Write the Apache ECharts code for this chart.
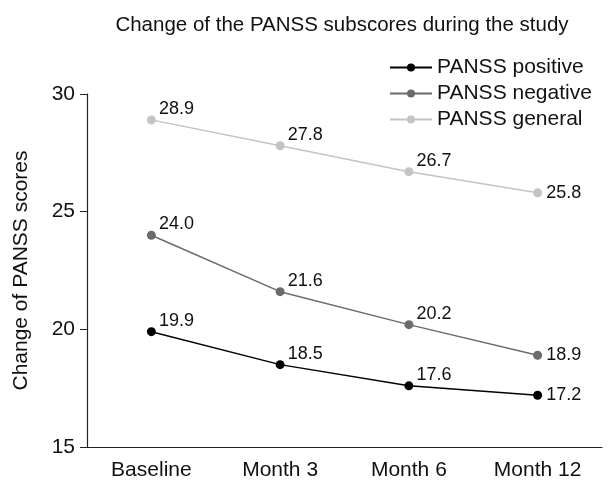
<!DOCTYPE html>
<html>
<head>
<meta charset="utf-8">
<script src="https://cdn.jsdelivr.net/npm/echarts@6/dist/echarts.min.js"></script>
<style>
html,body{margin:0;padding:0;background:#fff;}
#draw_1{width:609px;height:485px;}
</style>
</head>
<body>
<div id="draw_1"></div>
<script>
var categories = ['Baseline', 'Month 3', 'Month 6', 'Month 12'];
var positive = [19.9, 18.5, 17.6, 17.2];
var negative = [24.0, 21.6, 20.2, 18.9];
var general = [28.9, 27.8, 26.7, 25.8];

var myChart_1 = echarts.init(document.getElementById('draw_1'));
var FONT = 'Liberation Sans, Arial, sans-serif';
function makeSeries(name, values, color){
	var last = values.length - 1;
	return {
		name: name, type: 'line',
		data: values.map(function(v, i){
			// last point has its label straight to the right
			return i === last ? {value: v, label: {offset: [0, 0]}} : v;
		}),
		symbol: 'circle', symbolSize: 9,
		lineStyle: {color: color, width: 1.5},
		itemStyle: {color: color},
		label: {show: true, position: 'right', distance: 4, offset: [-1, -11], color: '#111', fontSize: 18,
			fontFamily: FONT,
			formatter: function(p){ return p.value.toFixed(1); }}
	};
}
function draw_1(){
	var option = {
		animation: false,
		textStyle: {fontFamily: FONT},
		title: {text: 'Change of the PANSS subscores during the study', left: 337, textAlign: 'center', top: 10,
			textStyle: {fontSize: 20.5, fontWeight: 'normal', color: '#111', fontFamily: FONT}},
		legend: {orient: 'vertical', left: 384, top: 52, itemGap: 5, itemWidth: 42, itemHeight: 10,
			textStyle: {fontSize: 21, lineHeight: 20, color: '#111', fontFamily: FONT},
			data: ['PANSS positive', 'PANSS negative', 'PANSS general']},
		grid: {left: 87, right: 7, top: 94, bottom: 38, containLabel: false, outerBoundsMode: 'none'},
		xAxis: {type: 'category', data: categories, boundaryGap: true,
			axisLine: {lineStyle: {color: '#222', width: 1.2}},
			axisTick: {length: 6, lineStyle: {color: '#222'}},
			axisLabel: {fontSize: 21, color: '#111', margin: 13, fontFamily: FONT}},
		yAxis: {type: 'value', min: 15, max: 30, interval: 5,
			name: 'Change of PANSS scores', nameLocation: 'middle', nameGap: 55,
			nameTextStyle: {fontSize: 21, color: '#111', fontFamily: FONT},
			axisLine: {show: true, lineStyle: {color: '#222', width: 1.2}},
			axisTick: {show: true, length: 7, lineStyle: {color: '#222'}},
			axisLabel: {fontSize: 21, color: '#111', margin: 12, fontFamily: FONT},
			splitLine: {show: false}},
		series: [
			makeSeries('PANSS positive', positive, '#000000'),
			makeSeries('PANSS negative', negative, '#6b6b6b'),
			makeSeries('PANSS general', general, '#c4c4c4')
		]
	};
	myChart_1.setOption(option, true);
}
draw_1();
</script>
</body>
</html>
